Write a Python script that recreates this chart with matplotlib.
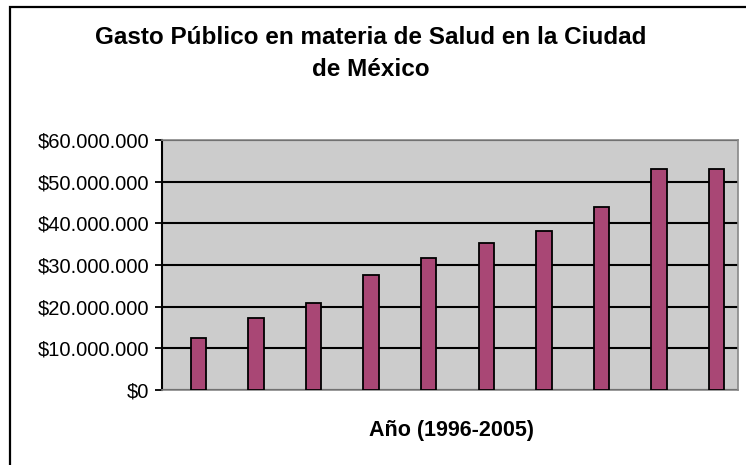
import matplotlib
matplotlib.use("Agg")
import matplotlib.pyplot as plt
from matplotlib.ticker import FuncFormatter
from matplotlib.patches import Rectangle

years = ["1996", "1997", "1998", "1999", "2000", "2001", "2002", "2003", "2004", "2005"]
gasto = [12.6e6, 17.2e6, 20.9e6, 27.7e6, 31.8e6, 35.4e6, 38.2e6, 44.0e6, 53.1e6, 53.1e6]
yticks = [0, 10e6, 20e6, 30e6, 40e6, 50e6, 60e6]

W, H = 746, 465
fig = plt.figure(figsize=(W / 100, H / 100), dpi=100)

# outer chart border (top and left visible)
fig.patches.append(Rectangle((9.5 / W, -0.1), 1.2, 1.1 - 7 / H, transform=fig.transFigure,
                             fill=False, edgecolor="black", linewidth=1.6))

ax = fig.add_axes([162 / W, (H - 390) / H, 576 / W, 250 / H])
ax.set_facecolor("#cccccc")
x = list(range(len(years)))
ax.bar([i + 0.13 for i in x], gasto, width=0.27, color="#a94775", edgecolor="black", linewidth=1.3, zorder=3)
ax.set_xlim(-0.5, 9.5)
ax.set_ylim(0, 60e6)
ax.set_yticks(yticks)
ax.yaxis.set_major_formatter(FuncFormatter(lambda v, p: "$" + f"{int(v):,}".replace(",", ".")))
ax.set_xticks([])
ax.grid(axis="y", color="black", linewidth=1.5, zorder=1)
for s in ["top", "right", "bottom"]:
    ax.spines[s].set_color("#888888")
    ax.spines[s].set_linewidth(1.2)
ax.spines["left"].set_color("black")
ax.spines["left"].set_linewidth(1.5)
ax.tick_params(axis="y", length=5, width=1.3, color="black", labelsize=14.5, pad=4)
for lab in ax.get_yticklabels():
    lab.set_fontfamily("Liberation Sans")

fig.text(371 / W, 1 - 37 / H, "Gasto Público en materia de Salud en la Ciudad", ha="center", va="center",
         fontsize=17.5, fontweight="bold", family="Liberation Sans")
fig.text(371 / W, 1 - 70 / H, "de México", ha="center", va="center",
         fontsize=17.5, fontweight="bold", family="Liberation Sans")
fig.text(452 / W, 1 - 430 / H, "Año (1996-2005)", ha="center", va="center",
         fontsize=15.5, fontweight="bold", family="Liberation Sans")

fig.savefig("out.png", dpi=100)
